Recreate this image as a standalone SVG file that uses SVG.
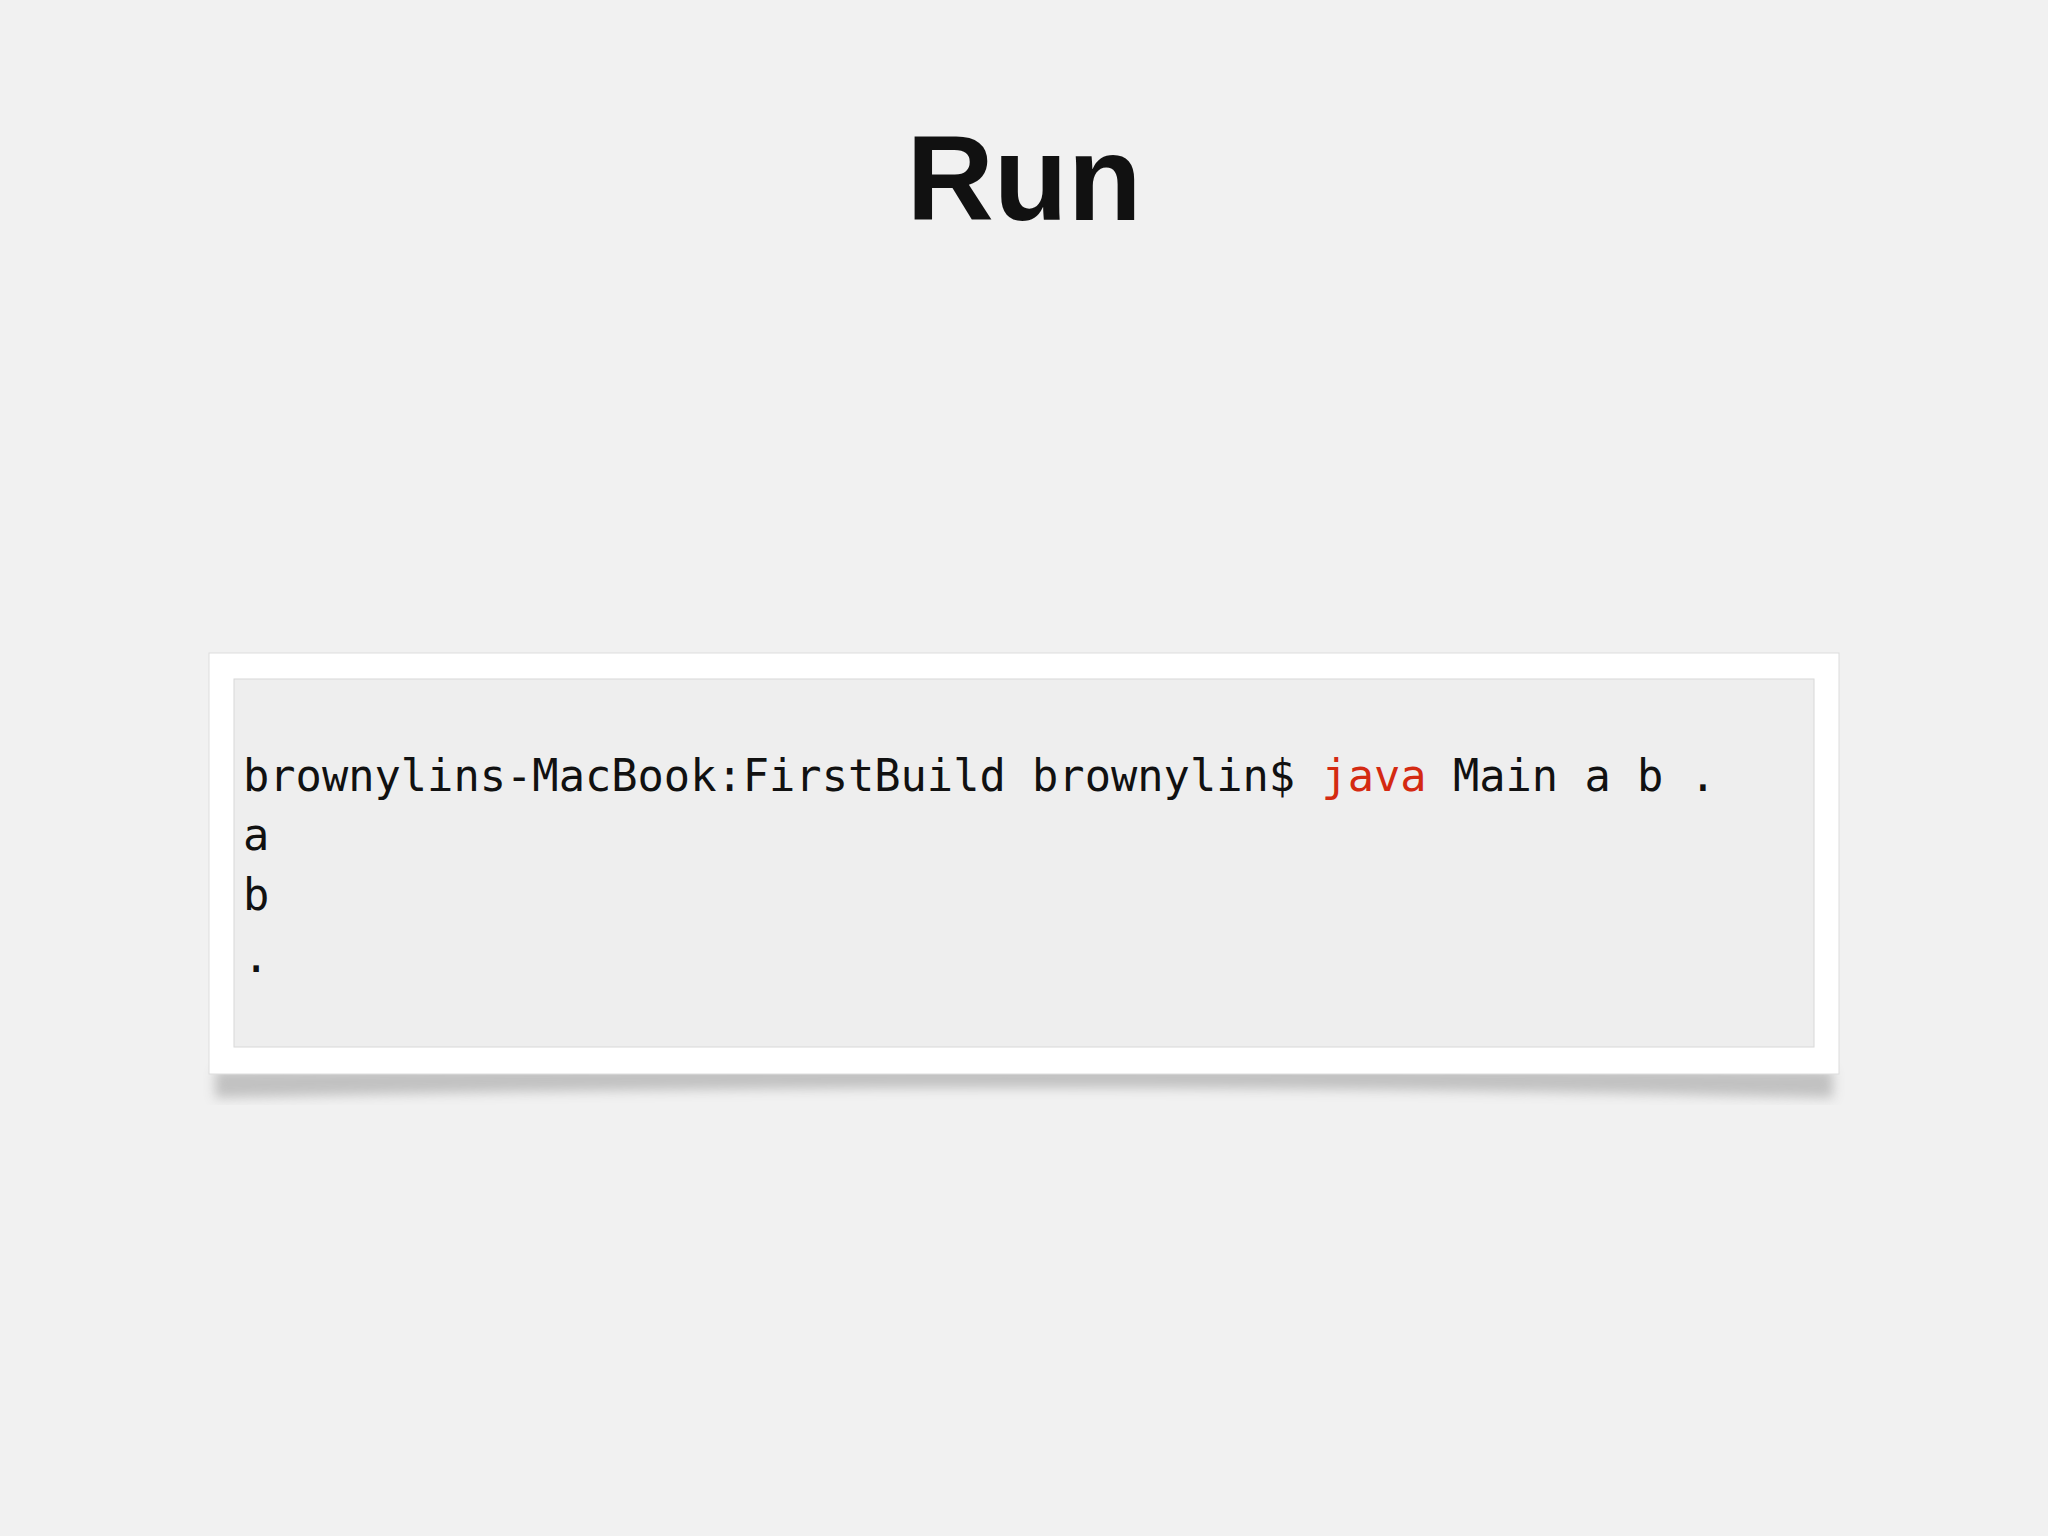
<svg xmlns="http://www.w3.org/2000/svg" width="2048" height="1536" viewBox="0 0 2048 1536">
<defs>
<style>
.t{font-family:"DejaVu Sans Mono","Liberation Mono",monospace;font-size:43.7px;fill:#111}
</style>
<filter id="sh" x="-5%" y="-20%" width="110%" height="140%"><feGaussianBlur stdDeviation="6"/></filter>
</defs>
<rect width="2048" height="1536" fill="#f1f1f1"/>
<text x="1024" y="220" text-anchor="middle" font-family="Liberation Sans, Arial, sans-serif" font-weight="bold" font-size="121" fill="#111">Run</text>
<g id="terminal">
<path d="M215 1070 Q1024 1062 1833 1070 L1833 1098 Q1024 1078 215 1098 Z" fill="#888" opacity="0.45" filter="url(#sh)"/>
<rect x="209" y="653" width="1630" height="421" fill="#fff" stroke="#ddd" stroke-width="1"/>
<rect x="234" y="679" width="1580" height="368" fill="#eeeeee" stroke="#d8d8d8" stroke-width="1"/>
<text class="t" x="243" y="791" xml:space="preserve">brownylins-MacBook:FirstBuild brownylin$ <tspan fill="#d42a12">java</tspan> Main a b .</text>
<text class="t" x="243" y="850">a</text>
<text class="t" x="243" y="910">b</text>
<text class="t" x="243" y="972">.</text>
</g>
</svg>
